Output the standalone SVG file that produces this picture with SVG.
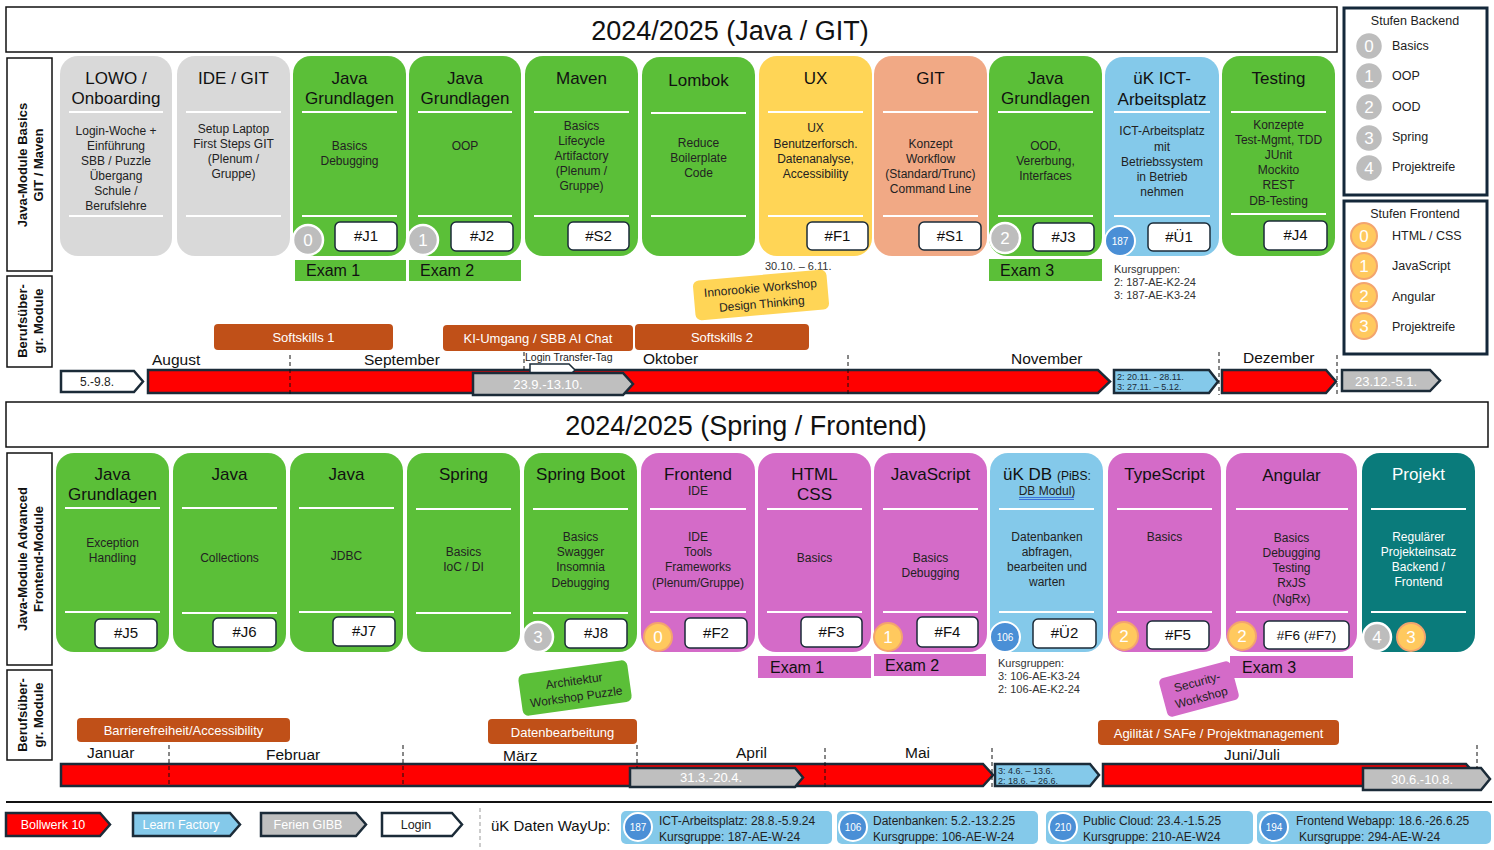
<svg xmlns="http://www.w3.org/2000/svg" width="1494" height="850" viewBox="0 0 1494 850">
<style>
text{font-family:"Liberation Sans",Arial,sans-serif}
.ttl{font-size:17px;fill:#111;text-anchor:middle}
.ttlw{font-size:17px;fill:#fff;text-anchor:middle}
.bd{font-size:12px;fill:#222;text-anchor:middle}
.bdw{font-size:12px;fill:#fff;text-anchor:middle}
.tg{font-size:15px;fill:#111;text-anchor:middle}
.tagbox{fill:#fff;stroke:#1b2b38;stroke-width:1.5}
.hl{stroke:#fff;stroke-width:2}
.gr{fill:#5bbf38}.gy{fill:#d9d9d9}.ye{fill:#ffd556}.sa{fill:#f1a985}.lb{fill:#84c9ea}.vi{fill:#d46bc8}.te{fill:#0a7b7b}
.lvl{fill:#bdbdbd;stroke:#fff;stroke-width:2.5}
.lvlo{fill:#ffc95e;stroke:#f3a46e;stroke-width:2}
.lvlt{font-size:17px;fill:#fff;text-anchor:middle}
.blc{fill:#4a8fd6;stroke:#fff;stroke-width:2}
.blt{font-size:10px;fill:#fff;text-anchor:middle}
.arr{stroke:#1b2b38;stroke-width:2.5}
.dash{stroke:#111;stroke-width:1;stroke-dasharray:4 3}
.mon{font-size:15.5px;fill:#111}
.ss{fill:#c05018}
.sst{font-size:13px;fill:#fff;text-anchor:middle}
.exam{font-size:16px;fill:#111}
.small{font-size:11px;fill:#333}
.lab{font-size:13px;font-weight:bold;fill:#111;text-anchor:middle}
.box{fill:#fff;stroke:#111;stroke-width:1.5}
.lgbox{fill:#fff;stroke:#14283a;stroke-width:3}
.lgt{font-size:12.5px;fill:#222}
.way{font-size:12px;fill:#222}
.tlt{font-size:9px;fill:#1b2b38}
</style>

<!-- titles -->
<g id="title-top">
<rect class="box" x="6" y="7" width="1331" height="45"/>
<text x="730" y="40" font-size="27" text-anchor="middle" fill="#111">2024/2025 (Java / GIT)</text>
</g>
<g id="title-bottom">
<rect class="box" x="6" y="402" width="1482" height="45"/>
<text x="746" y="435" font-size="27" text-anchor="middle" fill="#111">2024/2025 (Spring / Frontend)</text>
</g>

<!-- row labels -->
<g id="label-basics">
<rect class="box" x="7" y="58" width="45" height="213"/>
<text class="lab" transform="translate(27,165) rotate(-90)">Java-Module Basics</text>
<text class="lab" transform="translate(43,165) rotate(-90)">GIT / Maven</text>
</g>
<g id="label-beruf1">
<rect class="box" x="7" y="276" width="45" height="91"/>
<text class="lab" transform="translate(27,321) rotate(-90)">Berufsüber-</text>
<text class="lab" transform="translate(43,321) rotate(-90)">gr. Module</text>
</g>
<g id="label-advanced">
<rect class="box" x="7" y="453" width="45" height="212"/>
<text class="lab" transform="translate(27,559) rotate(-90)">Java-Module Advanced</text>
<text class="lab" transform="translate(43,559) rotate(-90)">Frontend-Module</text>
</g>
<g id="label-beruf2">
<rect class="box" x="7" y="670" width="45" height="90"/>
<text class="lab" transform="translate(27,715) rotate(-90)">Berufsüber-</text>
<text class="lab" transform="translate(43,715) rotate(-90)">gr. Module</text>
</g>

<!-- TOP ROW CARDS -->
<g id="card-lowo">
<rect class="gy" x="60" y="56" width="112" height="200" rx="18"/>
<line class="hl" x1="69" y1="112" x2="163" y2="112"/><line class="hl" x1="69" y1="216" x2="163" y2="216"/>
<text class="ttl" x="116" y="84">LOWO /</text><text class="ttl" x="116" y="104">Onboarding</text>
<text class="bd" x="116" y="135">Login-Woche +</text><text class="bd" x="116" y="150">Einführung</text><text class="bd" x="116" y="165">SBB / Puzzle</text><text class="bd" x="116" y="180">Übergang</text><text class="bd" x="116" y="195">Schule /</text><text class="bd" x="116" y="210">Berufslehre</text>
</g>
<g id="card-ide">
<rect class="gy" x="177" y="56" width="113" height="200" rx="18"/>
<line class="hl" x1="186" y1="112" x2="281" y2="112"/><line class="hl" x1="186" y1="216" x2="281" y2="216"/>
<text class="ttl" x="233.5" y="84">IDE / GIT</text>
<text class="bd" x="233.5" y="133">Setup Laptop</text><text class="bd" x="233.5" y="148">First Steps GIT</text><text class="bd" x="233.5" y="163">(Plenum /</text><text class="bd" x="233.5" y="178">Gruppe)</text>
</g>
<g id="card-j1">
<rect class="gr" x="293" y="56" width="113" height="200" rx="18"/>
<line class="hl" x1="302" y1="112" x2="397" y2="112"/><line class="hl" x1="302" y1="216" x2="397" y2="216"/>
<text class="ttl" x="349.5" y="84">Java</text><text class="ttl" x="349.5" y="104">Grundlagen</text>
<text class="bd" x="349.5" y="150">Basics</text><text class="bd" x="349.5" y="165">Debugging</text>
<rect class="tagbox" x="335" y="222" width="62" height="29" rx="5"/><text class="tg" x="366" y="241">#J1</text>
<circle class="lvl" cx="308" cy="240" r="15"/><text class="lvlt" x="308" y="246">0</text>
</g>
<g id="card-j2">
<rect class="gr" x="409" y="56" width="112" height="200" rx="18"/>
<line class="hl" x1="418" y1="112" x2="512" y2="112"/><line class="hl" x1="418" y1="216" x2="512" y2="216"/>
<text class="ttl" x="465" y="84">Java</text><text class="ttl" x="465" y="104">Grundlagen</text>
<text class="bd" x="465" y="150">OOP</text>
<rect class="tagbox" x="451" y="222" width="62" height="29" rx="5"/><text class="tg" x="482" y="241">#J2</text>
<circle class="lvl" cx="423" cy="240" r="15"/><text class="lvlt" x="423" y="246">1</text>
</g>
<g id="card-maven">
<rect class="gr" x="525" y="56" width="113" height="200" rx="18"/>
<line class="hl" x1="534" y1="112" x2="629" y2="112"/><line class="hl" x1="534" y1="216" x2="629" y2="216"/>
<text class="ttl" x="581.5" y="84">Maven</text>
<text class="bd" x="581.5" y="130">Basics</text><text class="bd" x="581.5" y="145">Lifecycle</text><text class="bd" x="581.5" y="160">Artifactory</text><text class="bd" x="581.5" y="175">(Plenum /</text><text class="bd" x="581.5" y="190">Gruppe)</text>
<rect class="tagbox" x="568" y="222" width="61" height="28" rx="5"/><text class="tg" x="598.5" y="241">#S2</text>
</g>
<g id="card-lombok">
<rect class="gr" x="642" y="57" width="113" height="199" rx="18"/>
<line class="hl" x1="651" y1="113" x2="746" y2="113"/><line class="hl" x1="651" y1="216" x2="746" y2="216"/>
<text class="ttl" x="698.5" y="86">Lombok</text>
<text class="bd" x="698.5" y="147">Reduce</text><text class="bd" x="698.5" y="162">Boilerplate</text><text class="bd" x="698.5" y="177">Code</text>
</g>
<g id="card-ux">
<rect class="ye" x="759" y="56" width="113" height="200" rx="18"/>
<line class="hl" x1="768" y1="112" x2="863" y2="112"/><line class="hl" x1="768" y1="216" x2="863" y2="216"/>
<text class="ttl" x="815.5" y="84">UX</text>
<text class="bd" x="815.5" y="132">UX</text><text class="bd" x="815.5" y="148">Benutzerforsch.</text><text class="bd" x="815.5" y="163">Datenanalyse,</text><text class="bd" x="815.5" y="178">Accessibility</text>
<rect class="tagbox" x="807" y="222" width="61" height="28" rx="5"/><text class="tg" x="837.5" y="241">#F1</text>
</g>
<g id="card-git">
<rect class="sa" x="874" y="56" width="113" height="200" rx="18"/>
<line class="hl" x1="883" y1="112" x2="978" y2="112"/><line class="hl" x1="883" y1="216" x2="978" y2="216"/>
<text class="ttl" x="930.5" y="84">GIT</text>
<text class="bd" x="930.5" y="148">Konzept</text><text class="bd" x="930.5" y="163">Workflow</text><text class="bd" x="930.5" y="178">(Standard/Trunc)</text><text class="bd" x="930.5" y="193">Command Line</text>
<rect class="tagbox" x="919" y="222" width="62" height="28" rx="5"/><text class="tg" x="950" y="241">#S1</text>
</g>
<g id="card-j3">
<rect class="gr" x="989" y="56" width="113" height="200" rx="18"/>
<line class="hl" x1="998" y1="112" x2="1093" y2="112"/><line class="hl" x1="998" y1="216" x2="1093" y2="216"/>
<text class="ttl" x="1045.5" y="84">Java</text><text class="ttl" x="1045.5" y="104">Grundlagen</text>
<text class="bd" x="1045.5" y="150">OOD,</text><text class="bd" x="1045.5" y="165">Vererbung,</text><text class="bd" x="1045.5" y="180">Interfaces</text>
<rect class="tagbox" x="1033" y="223" width="61" height="28" rx="5"/><text class="tg" x="1063.5" y="242">#J3</text>
<circle class="lvl" cx="1005" cy="238" r="15"/><text class="lvlt" x="1005" y="244">2</text>
</g>
<g id="card-ict">
<rect class="lb" x="1105" y="57" width="114" height="199" rx="18"/>
<line class="hl" x1="1114" y1="112" x2="1210" y2="112"/><line class="hl" x1="1114" y1="216" x2="1210" y2="216"/>
<text class="ttl" x="1162" y="84">üK ICT-</text><text class="ttl" x="1162" y="105">Arbeitsplatz</text>
<text class="bd" x="1162" y="135">ICT-Arbeitsplatz</text><text class="bd" x="1162" y="151">mit</text><text class="bd" x="1162" y="166">Betriebssystem</text><text class="bd" x="1162" y="181">in Betrieb</text><text class="bd" x="1162" y="196">nehmen</text>
<rect class="tagbox" x="1148" y="223" width="62" height="28" rx="5"/><text class="tg" x="1179" y="242">#Ü1</text>
<circle class="blc" cx="1120" cy="241" r="15"/><text class="blt" x="1120" y="245">187</text>
</g>
<g id="card-testing">
<rect class="gr" x="1222" y="56" width="113" height="200" rx="18"/>
<line class="hl" x1="1231" y1="112" x2="1326" y2="112"/><line class="hl" x1="1231" y1="214" x2="1326" y2="214"/>
<text class="ttl" x="1278.5" y="84">Testing</text>
<text class="bd" x="1278.5" y="129">Konzepte</text><text class="bd" x="1278.5" y="144">Test-Mgmt, TDD</text><text class="bd" x="1278.5" y="159">JUnit</text><text class="bd" x="1278.5" y="174">Mockito</text><text class="bd" x="1278.5" y="189">REST</text><text class="bd" x="1278.5" y="205">DB-Testing</text>
<rect class="tagbox" x="1264" y="221" width="63" height="29" rx="5"/><text class="tg" x="1295.5" y="240">#J4</text>
</g>

<!-- exams top -->
<g id="exam-top">
<rect class="gr" x="295" y="260" width="111" height="21"/><text class="exam" x="306" y="276">Exam 1</text>
<rect class="gr" x="409" y="260" width="112" height="21"/><text class="exam" x="420" y="276">Exam 2</text>
<rect class="gr" x="989" y="259" width="113" height="22"/><text class="exam" x="1000" y="276">Exam 3</text>
</g>
<g id="notes-top">
<text class="small" x="765" y="270">30.10. – 6.11.</text>
<text class="small" x="1114" y="273">Kursgruppen:</text>
<text class="small" x="1114" y="286">2: 187-AE-K2-24</text>
<text class="small" x="1114" y="299">3: 187-AE-K3-24</text>
</g>
<g id="sticky-innorookie" transform="translate(761,295) rotate(-5)">
<rect class="ye" x="-67" y="-20" width="134" height="40" rx="6"/>
<text class="bd" x="0" y="-3">Innorookie Workshop</text>
<text class="bd" x="0" y="13">Design Thinking</text>
</g>

<!-- softskills top -->
<g id="bar-softskills1"><rect class="ss" x="214" y="324" width="179" height="26" rx="4"/><text class="sst" x="303.5" y="342">Softskills 1</text></g>
<g id="bar-ki"><rect class="ss" x="443" y="325" width="190" height="26" rx="4"/><text class="sst" x="538" y="343">KI-Umgang / SBB AI Chat</text></g>
<g id="bar-softskills2"><rect class="ss" x="635" y="324" width="174" height="26" rx="4"/><text class="sst" x="722" y="342">Softskills 2</text></g>

<!-- legend stufen -->
<g id="legend-backend">
<rect class="lgbox" x="1344" y="8" width="143" height="187"/>
<text class="lgt" x="1415" y="25" text-anchor="middle">Stufen Backend</text>
<circle class="lvl" cx="1369" cy="46" r="14"/><text class="lvlt" x="1369" y="52">0</text><text class="lgt" x="1392" y="50">Basics</text>
<circle class="lvl" cx="1369" cy="76" r="14"/><text class="lvlt" x="1369" y="82">1</text><text class="lgt" x="1392" y="80">OOP</text>
<circle class="lvl" cx="1369" cy="107" r="14"/><text class="lvlt" x="1369" y="113">2</text><text class="lgt" x="1392" y="111">OOD</text>
<circle class="lvl" cx="1369" cy="138" r="14"/><text class="lvlt" x="1369" y="144">3</text><text class="lgt" x="1392" y="141">Spring</text>
<circle class="lvl" cx="1369" cy="168" r="14"/><text class="lvlt" x="1369" y="174">4</text><text class="lgt" x="1392" y="171">Projektreife</text>
</g>
<g id="legend-frontend">
<rect class="lgbox" x="1344" y="201" width="143" height="153"/>
<text class="lgt" x="1415" y="218" text-anchor="middle">Stufen Frontend</text>
<circle class="lvlo" cx="1364" cy="236" r="13"/><text class="lvlt" x="1364" y="242">0</text><text class="lgt" x="1392" y="240">HTML / CSS</text>
<circle class="lvlo" cx="1364" cy="266" r="13"/><text class="lvlt" x="1364" y="272">1</text><text class="lgt" x="1392" y="270">JavaScript</text>
<circle class="lvlo" cx="1364" cy="296" r="13"/><text class="lvlt" x="1364" y="302">2</text><text class="lgt" x="1392" y="301">Angular</text>
<circle class="lvlo" cx="1364" cy="326" r="13"/><text class="lvlt" x="1364" y="332">3</text><text class="lgt" x="1392" y="331">Projektreife</text>
</g>

<!-- timeline top -->
<g id="timeline-top">
<text class="mon" x="152" y="365">August</text>
<text class="mon" x="364" y="365">September</text>
<text x="525" y="361" font-size="10.5" fill="#222">Login Transfer-Tag</text>
<text class="mon" x="643" y="364">Oktober</text>
<text class="mon" x="1011" y="364">November</text>
<text class="mon" x="1243" y="363">Dezember</text>
<path class="arr" fill="#fff" d="M61 371 H134 L143 381.5 L134 392 H61 Z"/>
<text x="97" y="386" font-size="12" fill="#222" text-anchor="middle">5.-9.8.</text>
<path class="arr" fill="#ff0000" d="M148 370 H1098 L1110 381.5 L1098 393 H148 Z"/>
<path fill="#fff" stroke="#1b2b38" stroke-width="1.5" d="M530 364 H569 L575 370 L569 376 H530 Z"/>
<path class="arr" fill="#bfbfbf" d="M473 373 H623 L633 384 L623 395 H473 Z"/>
<text x="548" y="389" font-size="13" fill="#fff" text-anchor="middle">23.9.-13.10.</text>
<path class="arr" fill="#84c9ea" d="M1114 370 H1209 L1218 381.5 L1209 393 H1114 Z"/>
<text class="tlt" x="1117" y="380">2: 20.11. - 28.11.</text>
<text class="tlt" x="1117" y="390">3: 27.11. – 5.12.</text>
<path class="arr" fill="#ff0000" d="M1222 370 H1326 L1336 381.5 L1326 393 H1222 Z"/>
<path class="arr" fill="#bfbfbf" d="M1342 370 H1430 L1440 380.5 L1430 391 H1342 Z"/>
<text x="1386" y="386" font-size="13" fill="#fff" text-anchor="middle">23.12.-5.1.</text>
<line class="dash" x1="290" y1="355" x2="290" y2="395"/>
<line class="dash" x1="524" y1="352" x2="524" y2="372"/>
<line class="dash" x1="848" y1="355" x2="848" y2="395"/>
<line class="dash" x1="1219" y1="352" x2="1219" y2="395"/>
<line class="dash" x1="1337" y1="355" x2="1337" y2="395"/>
</g>

<!-- BOTTOM ROW CARDS -->
<g id="card-j5">
<rect class="gr" x="56" y="453" width="113" height="199" rx="18"/>
<line class="hl" x1="65" y1="508" x2="160" y2="508"/><line class="hl" x1="65" y1="612" x2="160" y2="612"/>
<text class="ttl" x="112.5" y="480">Java</text><text class="ttl" x="112.5" y="500">Grundlagen</text>
<text class="bd" x="112.5" y="547">Exception</text><text class="bd" x="112.5" y="562">Handling</text>
<rect class="tagbox" x="95" y="619" width="62" height="29" rx="5"/><text class="tg" x="126" y="638">#J5</text>
</g>
<g id="card-j6">
<rect class="gr" x="173" y="453" width="113" height="199" rx="18"/>
<line class="hl" x1="182" y1="508" x2="277" y2="508"/><line class="hl" x1="182" y1="613" x2="277" y2="613"/>
<text class="ttl" x="229.5" y="480">Java</text>
<text class="bd" x="229.5" y="562">Collections</text>
<rect class="tagbox" x="213" y="618" width="63" height="29" rx="5"/><text class="tg" x="244.5" y="637">#J6</text>
</g>
<g id="card-j7">
<rect class="gr" x="290" y="453" width="113" height="199" rx="18"/>
<line class="hl" x1="299" y1="508" x2="394" y2="508"/><line class="hl" x1="299" y1="612" x2="394" y2="612"/>
<text class="ttl" x="346.5" y="480">Java</text>
<text class="bd" x="346.5" y="560">JDBC</text>
<rect class="tagbox" x="333" y="617" width="62" height="29" rx="5"/><text class="tg" x="364" y="636">#J7</text>
</g>
<g id="card-spring">
<rect class="gr" x="407" y="453" width="113" height="199" rx="18"/>
<line class="hl" x1="416" y1="509" x2="511" y2="509"/><line class="hl" x1="416" y1="613" x2="511" y2="613"/>
<text class="ttl" x="463.5" y="480">Spring</text>
<text class="bd" x="463.5" y="556">Basics</text><text class="bd" x="463.5" y="571">IoC / DI</text>
</g>
<g id="card-springboot">
<rect class="gr" x="524" y="453" width="113" height="199" rx="18"/>
<line class="hl" x1="533" y1="509" x2="628" y2="509"/><line class="hl" x1="533" y1="613" x2="628" y2="613"/>
<text class="ttl" x="580.5" y="480">Spring Boot</text>
<text class="bd" x="580.5" y="541">Basics</text><text class="bd" x="580.5" y="556">Swagger</text><text class="bd" x="580.5" y="571">Insomnia</text><text class="bd" x="580.5" y="587">Debugging</text>
<rect class="tagbox" x="565" y="619" width="62" height="29" rx="5"/><text class="tg" x="596" y="638">#J8</text>
<circle class="lvl" cx="538" cy="637" r="15"/><text class="lvlt" x="538" y="643">3</text>
</g>
<g id="card-frontend">
<rect class="vi" x="641" y="453" width="114" height="199" rx="18"/>
<line class="hl" x1="650" y1="509" x2="746" y2="509"/><line class="hl" x1="650" y1="612" x2="746" y2="612"/>
<text class="ttl" x="698" y="480">Frontend</text><text class="bd" x="698" y="495" fill="#111">IDE</text>
<text class="bd" x="698" y="541">IDE</text><text class="bd" x="698" y="556">Tools</text><text class="bd" x="698" y="571">Frameworks</text><text class="bd" x="698" y="587">(Plenum/Gruppe)</text>
<rect class="tagbox" x="685" y="618" width="62" height="30" rx="5"/><text class="tg" x="716" y="638">#F2</text>
<circle class="lvlo" cx="658" cy="637" r="14"/><text class="lvlt" x="658" y="643">0</text>
</g>
<g id="card-html">
<rect class="vi" x="758" y="453" width="113" height="199" rx="18"/>
<line class="hl" x1="767" y1="509" x2="862" y2="509"/><line class="hl" x1="767" y1="612" x2="862" y2="612"/>
<text class="ttl" x="814.5" y="480">HTML</text><text class="ttl" x="814.5" y="500">CSS</text>
<text class="bd" x="814.5" y="562">Basics</text>
<rect class="tagbox" x="801" y="617" width="61" height="30" rx="5"/><text class="tg" x="831.5" y="637">#F3</text>
</g>
<g id="card-javascript">
<rect class="vi" x="874" y="453" width="113" height="199" rx="18"/>
<line class="hl" x1="883" y1="509" x2="978" y2="509"/><line class="hl" x1="883" y1="612" x2="978" y2="612"/>
<text class="ttl" x="930.5" y="480">JavaScript</text>
<text class="bd" x="930.5" y="562">Basics</text><text class="bd" x="930.5" y="577">Debugging</text>
<rect class="tagbox" x="917" y="617" width="61" height="30" rx="5"/><text class="tg" x="947.5" y="637">#F4</text>
<circle class="lvlo" cx="888" cy="637" r="14"/><text class="lvlt" x="888" y="643">1</text>
</g>
<g id="card-ukdb">
<rect class="lb" x="990" y="453" width="113" height="199" rx="18"/>
<line class="hl" x1="999" y1="509" x2="1094" y2="509"/><line class="hl" x1="999" y1="612" x2="1094" y2="612"/>
<text x="1047" y="480" text-anchor="middle" fill="#111"><tspan font-size="17">üK DB </tspan><tspan font-size="12">(PiBS:</tspan></text>
<text class="bd" x="1047" y="495" fill="#111">DB Modul)</text>
<line x1="1019" y1="497.5" x2="1074" y2="497.5" stroke="#2a5bd6" stroke-width="0.8"/>
<line x1="1019" y1="499.5" x2="1074" y2="499.5" stroke="#2a5bd6" stroke-width="0.8"/>
<text class="bd" x="1047" y="541">Datenbanken</text><text class="bd" x="1047" y="556">abfragen,</text><text class="bd" x="1047" y="571">bearbeiten und</text><text class="bd" x="1047" y="586">warten</text>
<rect class="tagbox" x="1033" y="619" width="63" height="29" rx="5"/><text class="tg" x="1064.5" y="638">#Ü2</text>
<circle class="blc" cx="1005" cy="637" r="15"/><text class="blt" x="1005" y="641">106</text>
</g>
<g id="card-typescript">
<rect class="vi" x="1108" y="453" width="113" height="199" rx="18"/>
<line class="hl" x1="1117" y1="509" x2="1212" y2="509"/><line class="hl" x1="1117" y1="612" x2="1212" y2="612"/>
<text class="ttl" x="1164.5" y="480">TypeScript</text>
<text class="bd" x="1164.5" y="541">Basics</text>
<rect class="tagbox" x="1147" y="621" width="62" height="28" rx="5"/><text class="tg" x="1178" y="640">#F5</text>
<circle class="lvlo" cx="1124" cy="636" r="14"/><text class="lvlt" x="1124" y="642">2</text>
</g>
<g id="card-angular">
<rect class="vi" x="1226" y="453" width="131" height="199" rx="18"/>
<line class="hl" x1="1236" y1="509" x2="1348" y2="509"/><line class="hl" x1="1236" y1="612" x2="1348" y2="612"/>
<text class="ttl" x="1291.5" y="481">Angular</text>
<text class="bd" x="1291.5" y="542">Basics</text><text class="bd" x="1291.5" y="557">Debugging</text><text class="bd" x="1291.5" y="572">Testing</text><text class="bd" x="1291.5" y="587">RxJS</text><text class="bd" x="1291.5" y="603">(NgRx)</text>
<rect class="tagbox" x="1264" y="621" width="85" height="28" rx="5"/><text x="1306.5" y="640" font-size="13.5" fill="#111" text-anchor="middle">#F6 (#F7)</text>
<circle class="lvlo" cx="1242" cy="636" r="14"/><text class="lvlt" x="1242" y="642">2</text>
</g>
<g id="card-projekt">
<rect class="te" x="1362" y="453" width="113" height="199" rx="18"/>
<line class="hl" x1="1371" y1="509" x2="1466" y2="509"/><line class="hl" x1="1371" y1="612" x2="1466" y2="612"/>
<text class="ttlw" x="1418.5" y="480">Projekt</text>
<text class="bdw" x="1418.5" y="541">Regulärer</text><text class="bdw" x="1418.5" y="556">Projekteinsatz</text><text class="bdw" x="1418.5" y="571">Backend /</text><text class="bdw" x="1418.5" y="586">Frontend</text>
<circle class="lvl" cx="1377" cy="637" r="14"/><text class="lvlt" x="1377" y="643">4</text>
<circle class="lvlo" cx="1411" cy="637" r="14"/><text class="lvlt" x="1411" y="643">3</text>
</g>

<!-- bottom stickies and exams -->
<g id="sticky-architektur" transform="translate(575,688) rotate(-8)">
<rect class="gr" x="-55" y="-21" width="110" height="42" rx="6"/>
<text class="bd" x="0" y="-3">Architektur</text>
<text class="bd" x="0" y="13">Workshop Puzzle</text>
</g>
<g id="sticky-security" transform="translate(1199,689) rotate(-15)">
<rect class="vi" x="-37" y="-20" width="74" height="40" rx="5"/>
<text class="bd" x="0" y="-3">Security-</text>
<text class="bd" x="0" y="13">Workshop</text>
</g>
<g id="exam-bottom">
<rect class="vi" x="758" y="656" width="113" height="22"/><text class="exam" x="770" y="673">Exam 1</text>
<rect class="vi" x="874" y="654" width="112" height="22"/><text class="exam" x="885" y="671">Exam 2</text>
<rect class="vi" x="1230" y="656" width="123" height="22"/><text class="exam" x="1242" y="673">Exam 3</text>
</g>
<g id="notes-bottom">
<text class="small" x="998" y="667">Kursgruppen:</text>
<text class="small" x="998" y="680">3: 106-AE-K3-24</text>
<text class="small" x="998" y="693">2: 106-AE-K2-24</text>
</g>

<g id="bar-barriere"><rect class="ss" x="77" y="718" width="213" height="24" rx="4"/><text class="sst" x="183.5" y="735">Barrierefreiheit/Accessibility</text></g>
<g id="bar-daten"><rect class="ss" x="488" y="719" width="149" height="25" rx="4"/><text class="sst" x="562.5" y="737">Datenbearbeitung</text></g>
<g id="bar-agil"><rect class="ss" x="1098" y="720" width="241" height="25" rx="4"/><text class="sst" x="1218.5" y="738">Agilität / SAFe / Projektmanagement</text></g>

<!-- timeline bottom -->
<g id="timeline-bottom">
<text class="mon" x="87" y="758">Januar</text>
<text class="mon" x="266" y="760">Februar</text>
<text class="mon" x="503" y="761">März</text>
<text class="mon" x="736" y="758">April</text>
<text class="mon" x="905" y="758">Mai</text>
<text class="mon" x="1224" y="760">Juni/Juli</text>
<path class="arr" fill="#ff0000" d="M61 764 H983 L993 775 L983 786 H61 Z"/>
<path class="arr" fill="#bfbfbf" d="M630 768 H795 L803 777.5 L795 787 H630 Z"/>
<text x="711" y="782" font-size="13" fill="#fff" text-anchor="middle">31.3.-20.4.</text>
<path class="arr" fill="#84c9ea" d="M995 764 H1090 L1099 775 L1090 786 H995 Z"/>
<text class="tlt" x="998" y="774">3: 4.6. – 13.6.</text>
<text class="tlt" x="998" y="784">2: 18.6. – 26.6.</text>
<path class="arr" fill="#ff0000" d="M1103 764 H1466 L1476 775 L1466 786 H1103 Z"/>
<path class="arr" fill="#bfbfbf" d="M1363 768 H1481 L1490 779 L1481 790 H1363 Z"/>
<text x="1422" y="784" font-size="13" fill="#fff" text-anchor="middle">30.6.-10.8.</text>
<line class="dash" x1="169" y1="745" x2="169" y2="786"/>
<line class="dash" x1="403" y1="745" x2="403" y2="786"/>
<line class="dash" x1="637" y1="745" x2="637" y2="768"/>
<line class="dash" x1="825" y1="748" x2="825" y2="790"/>
<line class="dash" x1="992" y1="748" x2="992" y2="790"/>
<line class="dash" x1="1477" y1="745" x2="1477" y2="768"/>
</g>

<!-- footer legend -->
<line x1="6" y1="802" x2="1492" y2="802" stroke="#111" stroke-width="2"/>
<g id="legend-timeline">
<path class="arr" fill="#ff0000" d="M6 813 H100 L110 824.5 L100 836 H6 Z"/>
<text x="53" y="829" font-size="12.5" fill="#fff" text-anchor="middle">Bollwerk 10</text>
<path class="arr" fill="#84c9ea" d="M133 813 H230 L240 824.5 L230 836 H133 Z"/>
<text x="181" y="829" font-size="12.5" fill="#fff" text-anchor="middle">Learn Factory</text>
<path class="arr" fill="#bfbfbf" d="M261 813 H356 L366 824.5 L356 836 H261 Z"/>
<text x="308" y="829" font-size="12.5" fill="#fff" text-anchor="middle">Ferien GIBB</text>
<path class="arr" fill="#fff" d="M382 813 H452 L462 824.5 L452 836 H382 Z"/>
<text x="416" y="829" font-size="12.5" fill="#222" text-anchor="middle">Login</text>
</g>
<line x1="480" y1="808" x2="480" y2="848" stroke="#999" stroke-width="1" stroke-dasharray="4 3"/>
<g id="legend-wayup">
<text x="491" y="831" font-size="15" fill="#111">üK Daten WayUp:</text>
<rect class="lb" x="621" y="811" width="211" height="33" rx="5"/>
<circle class="blc" cx="638" cy="827" r="14"/><text class="blt" x="638" y="831">187</text>
<text class="way" x="659" y="825">ICT-Arbeitsplatz: 28.8.-5.9.24</text><text class="way" x="659" y="841">Kursgruppe: 187-AE-W-24</text>
<rect class="lb" x="837" y="811" width="201" height="33" rx="5"/>
<circle class="blc" cx="853" cy="827" r="14"/><text class="blt" x="853" y="831">106</text>
<text class="way" x="873" y="825">Datenbanken: 5.2.-13.2.25</text><text class="way" x="873" y="841">Kursgruppe: 106-AE-W-24</text>
<rect class="lb" x="1046" y="811" width="207" height="33" rx="5"/>
<circle class="blc" cx="1063" cy="827" r="14"/><text class="blt" x="1063" y="831">210</text>
<text class="way" x="1083" y="825">Public Cloud: 23.4.-1.5.25</text><text class="way" x="1083" y="841">Kursgruppe: 210-AE-W24</text>
<rect class="lb" x="1257" y="811" width="234" height="33" rx="5"/>
<circle class="blc" cx="1274" cy="827" r="14"/><text class="blt" x="1274" y="831">194</text>
<text class="way" x="1296" y="825">Frontend Webapp: 18.6.-26.6.25</text><text class="way" x="1299" y="841">Kursgruppe: 294-AE-W-24</text>
</g>
</svg>
